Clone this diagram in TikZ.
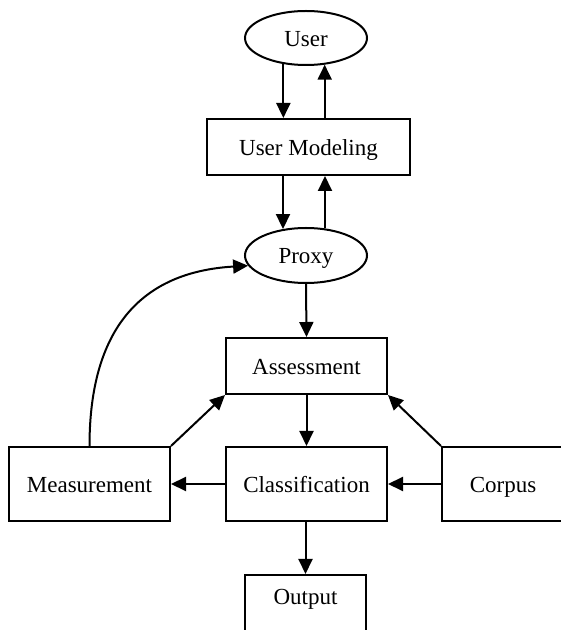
\documentclass[tikz,border=0pt]{standalone}
\usepackage{fontspec}
\setmainfont{Liberation Serif}
\usetikzlibrary{shapes.geometric,arrows.meta}
\begin{document}
\begin{tikzpicture}[x=1pt,y=1pt,
  every node/.style={font=\fontsize{23}{27}\selectfont, inner sep=0pt, line width=2pt,
    text height=17pt, text depth=0pt},
  ell/.style={draw, ellipse, minimum width=122pt, minimum height=54pt},
  box/.style={draw, rectangle, minimum width=161pt, minimum height=74pt},
  arr/.style={line width=2pt, -{Triangle[length=15pt,width=14pt]}}]
\useasboundingbox (0,0) rectangle (561,630);
\clip (0,0) rectangle (561,630);
\node[ell] (user) at (306,592) {User};
\node[draw, rectangle, minimum width=203pt, minimum height=56pt] (um) at (308.5,483) {User Modeling};
\node[ell, minimum height=55pt] (proxy) at (306,374.5) {Proxy};
\node[box, minimum height=56pt] (assess) at (306.5,264) {Assessment};
\node[box] (class) at (306.5,146) {Classification};
\node[box] (meas) at (89.5,146) {Measurement};
\node[draw, rectangle, minimum width=122pt, minimum height=74pt] (corpus) at (503,146) {Corpus};
\node[draw, rectangle, minimum width=121pt, minimum height=74pt, text depth=31pt] (output) at (305.5,18) {Output};

\draw[arr] (user.229) -- (user.229 |- um.north);
\draw[arr] (um.north -| user.305) -- (user.305);
\draw[arr] (um.south -| proxy.131) -- (proxy.131);
\draw[arr] (proxy.55) -- (proxy.55 |- um.south);
\draw[arr] (proxy.south) -- (assess.north);
\draw[arr] (assess.south) -- (class.north);
\draw[arr] (output.north |- class.south) -- (output.north);
\draw[arr] (class.west) -- (meas.east);
\draw[arr] (corpus.west) -- (class.east);
\draw[arr] (meas.north east) -- (assess.south west);
\draw[arr] (corpus.north west) -- (assess.south east);
\draw[arr] (meas.north) .. controls (89.5,300) and (140,358) .. (proxy.190);
\end{tikzpicture}
\end{document}
